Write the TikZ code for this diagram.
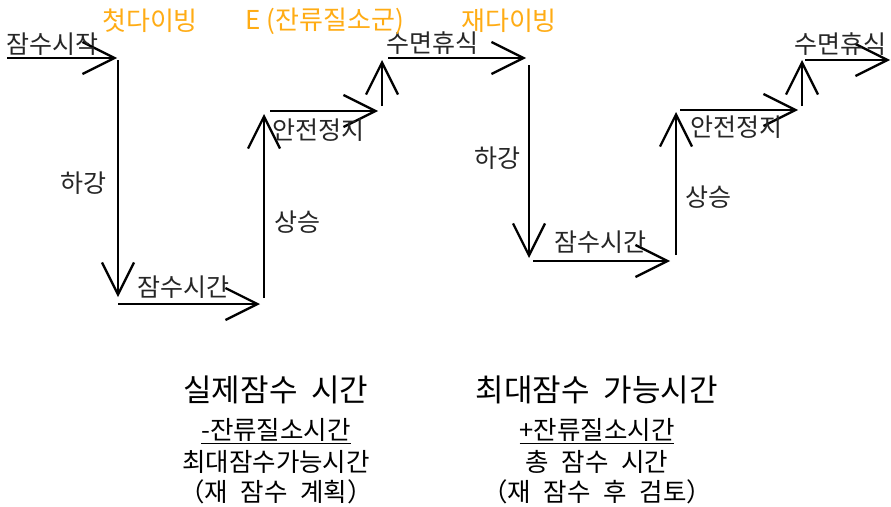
\documentclass[tikz,border=0pt]{standalone}
\usepackage{fontspec}
\setmainfont{Noto Sans CJK KR}
\usepackage{tikz}
\usetikzlibrary{arrows.meta, positioning}
\definecolor{diveorange}{RGB}{255,172,20}
\newcommand\widespace[1]{\spaceskip #1em\relax}

\begin{document}
\begin{tikzpicture}[x=1pt, y=-1pt,
    flow/.style={line width=2.3pt, -{Straight Barb[length=32pt, width=32pt, line width=2.3pt]}},
    lbl/.style={inner sep=0pt, font=\fontsize{25}{29}\selectfont, text=black!85},
    tag/.style={inner sep=0pt, font=\fontsize{26}{30}\selectfont, text=diveorange},
    big/.style={inner sep=0pt, font=\fontsize{31}{36}\selectfont\widespace{0.45}},
    mid/.style={inner sep=0pt, font=\fontsize{25.5}{30}\selectfont\widespace{0.5}}]
        \useasboundingbox[fill=white] (0,0) rectangle (891,506);

        % First dive: turning points
        \coordinate (s0) at (7,58);    \coordinate (s1) at (117,58);
        \coordinate (d0) at (118,60);  \coordinate (d1) at (118,297);
        \coordinate (b0) at (118,304); \coordinate (b1) at (260,304);
        \coordinate (u0) at (264,298); \coordinate (u1) at (264,114);
        \coordinate (p0) at (270,111); \coordinate (p1) at (378,111);
        \coordinate (q0) at (382,106); \coordinate (q1) at (382,60);
        \coordinate (r0) at (388,58);  \coordinate (r1) at (526,58);

        % Second dive: turning points
        \coordinate (D0) at (529,65);  \coordinate (D1) at (529,258);
        \coordinate (B0) at (533,261); \coordinate (B1) at (670,261);
        \coordinate (U0) at (676,255); \coordinate (U1) at (676,112);
        \coordinate (P0) at (680,110); \coordinate (P1) at (798,110);
        \coordinate (Q0) at (802,106); \coordinate (Q1) at (802,60);
        \coordinate (R0) at (805,60);  \coordinate (R1) at (890,60);

        % Staircase arrows
        \foreach \a/\b in {s0/s1,d0/d1,b0/b1,u0/u1,p0/p1,q0/q1,r0/r1,
                           D0/D1,B0/B1,U0/U1,P0/P1,Q0/Q1,R0/R1} {
          \draw[flow] (\a) -- (\b);
        }

        % Step labels
        \node[lbl, anchor=west] (start) at (6,44) {잠수시작};
        \node[lbl] (down1) at (83,183) {하강};
        \node[lbl] (bottom1) at (183,287) {잠수시간};
        \node[lbl] (up1) at (297,222) {상승};
        \node[lbl] (stop1) at (318,130) {안전정지};
        \node[lbl] (rest1) at (432,43) {수면휴식};
        \node[lbl] (down2) at (497,158) {하강};
        \node[lbl] (bottom2) at (600,242) {잠수시간};
        \node[lbl] (up2) at (708,197) {상승};
        \node[lbl] (stop2) at (736,127) {안전정지};
        \node[lbl] (rest2) at (840,44) {수면휴식};

        % Orange tags
        \node[tag] (first) at (150,21) {첫다이빙};
        \node[tag] (group) at (325,21) {E (잔류질소군)};
        \node[tag] (repeat) at (509,21) {재다이빙};

        % Calculations
        \node[big] (actual) at (276,390) {실제잠수 시간};
        \node[mid] (minus) at (276,431) {\underline{-잔류질소시간}};
        \node[mid] (maxtime) at (276,462) {최대잠수가능시간};
        \node[mid] (plan) at (276,492) {（재 잠수 계획）};

        \node[big] (maxdive) at (597,390) {최대잠수 가능시간};
        \node[mid] (plus) at (597,431) {\underline{+잔류질소시간}};
        \node[mid] (total) at (597,462) {총 잠수 시간};
        \node[mid] (check) at (597,492) {（재 잠수 후 검토）};
\end{tikzpicture}
\end{document}
